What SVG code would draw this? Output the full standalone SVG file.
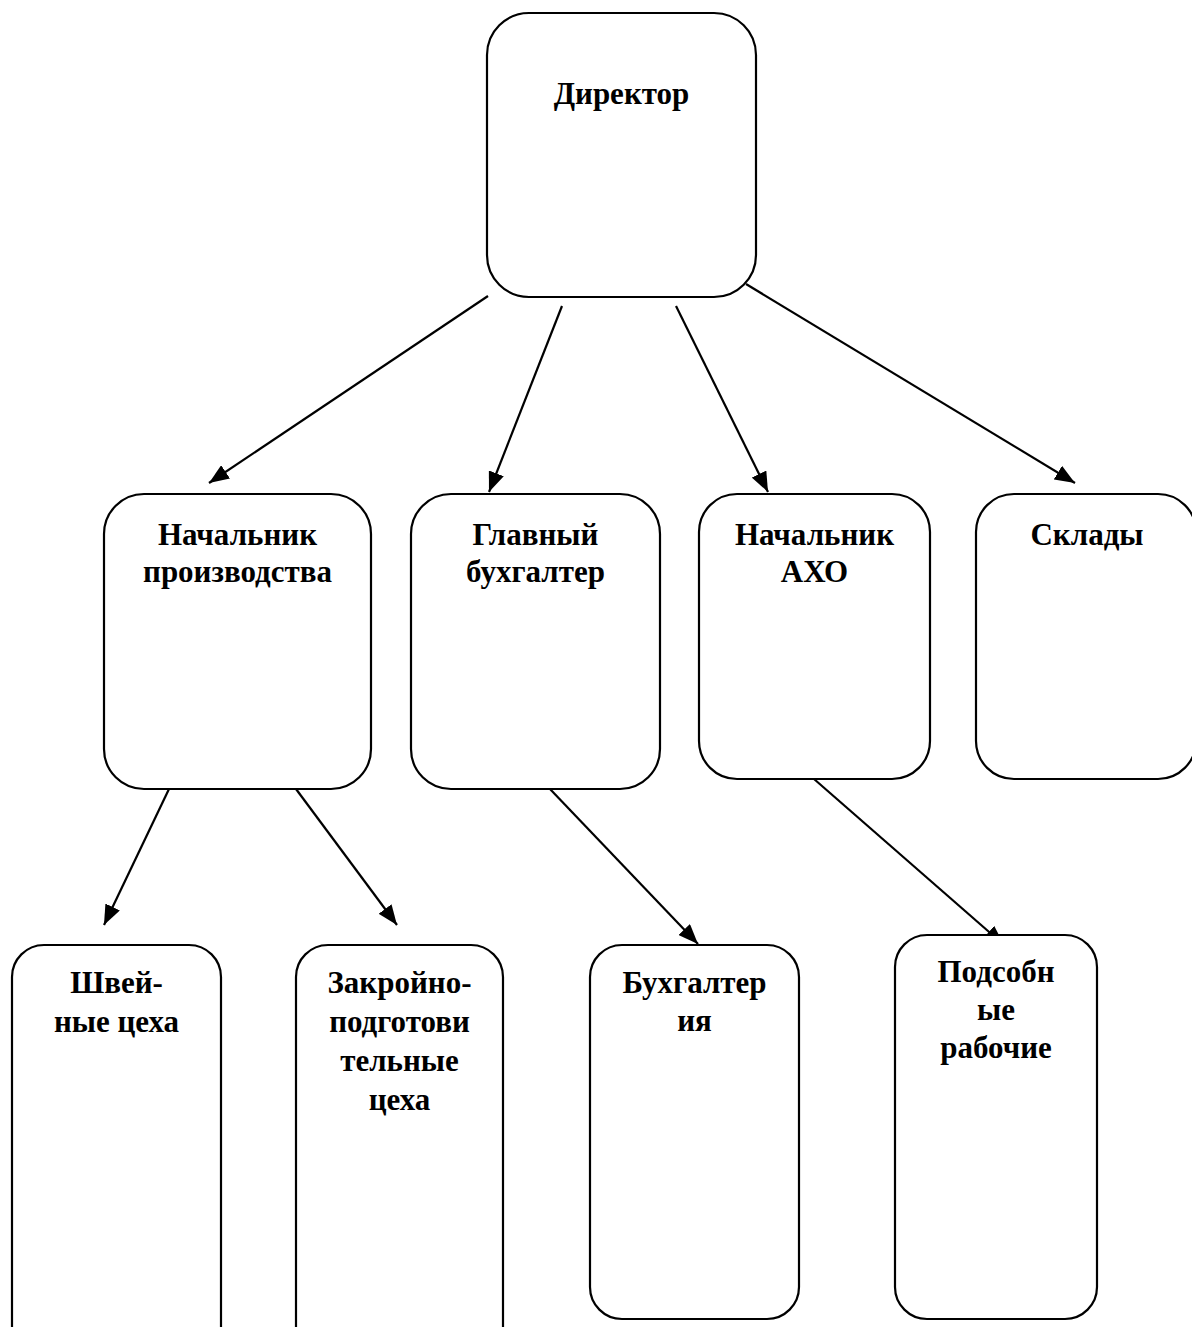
<svg xmlns="http://www.w3.org/2000/svg" width="1192" height="1327" viewBox="0 0 1192 1327">
<style>
.box{fill:#fff;stroke:#000;stroke-width:2.2}
.t{font-family:"Liberation Serif","Times New Roman",serif;font-weight:bold;font-size:31px;fill:#000;text-anchor:middle}
.c{stroke:#000;stroke-width:2.2;fill:none;marker-end:url(#ah)}
</style>
<defs>
<marker id="ah" markerUnits="userSpaceOnUse" markerWidth="20" markerHeight="16" refX="20" refY="8" orient="auto">
<path d="M0,0 L20,8 L0,16 z" fill="#000"/>
</marker>
</defs>
<rect width="1192" height="1327" fill="#fff"/>
<g id="connectors">
<line class="c" x1="488" y1="296" x2="209" y2="483"/>
<line class="c" x1="562" y1="306" x2="489" y2="492"/>
<line class="c" x1="676" y1="306" x2="768" y2="492"/>
<line class="c" x1="746" y1="284" x2="1075" y2="483"/>
<line class="c" x1="169" y1="789" x2="104" y2="925"/>
<line class="c" x1="296" y1="789" x2="397" y2="925"/>
<line class="c" x1="550" y1="789" x2="698" y2="944"/>
<line class="c" x1="814" y1="779" x2="1004" y2="945"/>
</g>
<g id="director">
<rect class="box" x="487" y="13" width="269" height="284" rx="42"/>
<text class="t" x="621.5" y="104">Директор</text>
</g>
<g id="production-head">
<rect class="box" x="104" y="494" width="267" height="295" rx="40"/>
<text class="t" x="237.5" y="545">Начальник</text>
<text class="t" x="237.5" y="582">производства</text>
</g>
<g id="chief-accountant">
<rect class="box" x="411" y="494" width="249" height="295" rx="40"/>
<text class="t" x="535.5" y="545">Главный</text>
<text class="t" x="535.5" y="582">бухгалтер</text>
</g>
<g id="aho-head">
<rect class="box" x="699" y="494" width="231" height="285" rx="38"/>
<text class="t" x="814.5" y="545">Начальник</text>
<text class="t" x="814.5" y="582">АХО</text>
</g>
<g id="warehouses">
<rect class="box" x="976" y="494" width="220" height="285" rx="38"/>
<text class="t" x="1087" y="545">Склады</text>
</g>
<g id="sewing">
<rect class="box" x="12" y="945" width="209" height="420" rx="32"/>
<text class="t" x="116.5" y="993">Швей-</text>
<text class="t" x="116.5" y="1032">ные цеха</text>
</g>
<g id="cutting">
<rect class="box" x="296" y="945" width="207" height="420" rx="32"/>
<text class="t" x="399.5" y="993">Закройно-</text>
<text class="t" x="399.5" y="1032">подготови</text>
<text class="t" x="399.5" y="1071">тельные</text>
<text class="t" x="399.5" y="1110">цеха</text>
</g>
<g id="accounting">
<rect class="box" x="590" y="945" width="209" height="374" rx="32"/>
<text class="t" x="694.5" y="993">Бухгалтер</text>
<text class="t" x="694.5" y="1031">ия</text>
</g>
<g id="auxiliary">
<rect class="box" x="895" y="935" width="202" height="384" rx="32"/>
<text class="t" x="996" y="982">Подсобн</text>
<text class="t" x="996" y="1020">ые</text>
<text class="t" x="996" y="1058">рабочие</text>
</g>
</svg>
